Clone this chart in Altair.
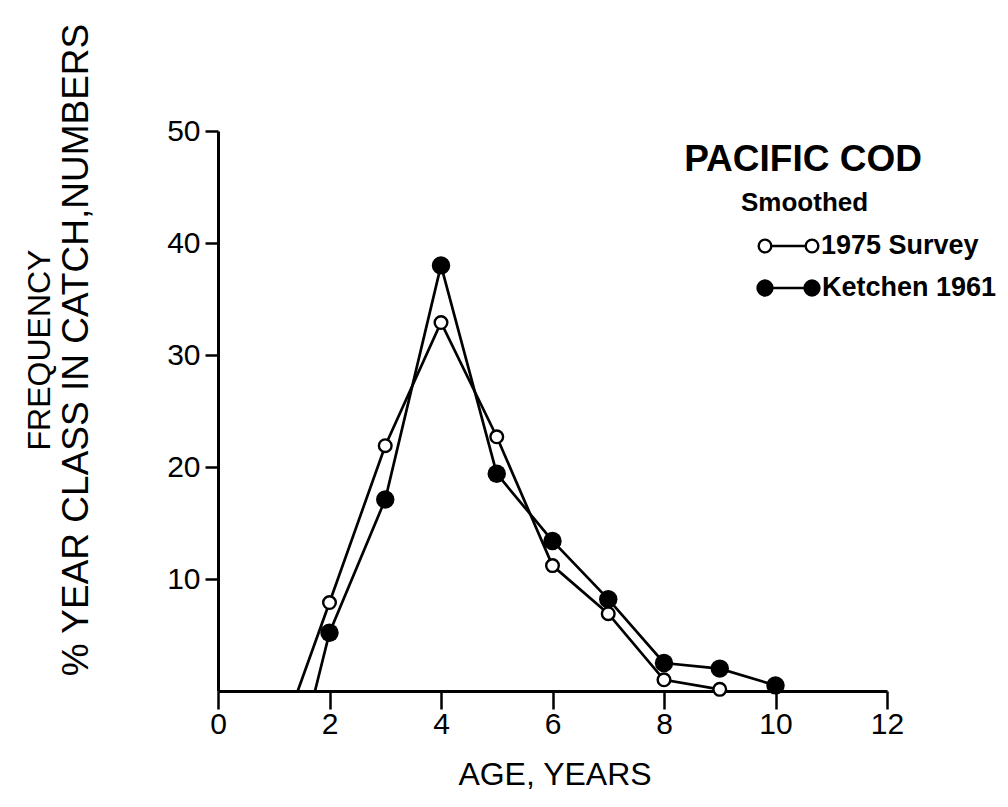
import altair as alt
import pandas as pd

# Data
survey_ages = [1.43, 2, 3, 4, 5, 6, 7, 8, 9]
survey_vals = [0.0, 7.9, 21.9, 32.9, 22.7, 11.2, 6.9, 1.0, 0.15]
ketchen_ages = [1.74, 2, 3, 4, 5, 6, 7, 8, 9, 10]
ketchen_vals = [0.0, 5.2, 17.1, 38.0, 19.4, 13.4, 8.2, 2.5, 2.0, 0.5]

x_ticks = [0, 2, 4, 6, 8, 10, 12]
y_ticks = [10, 20, 30, 40, 50]

FONT = "Liberation Sans"

lines_df = pd.DataFrame({
    "age": survey_ages + ketchen_ages,
    "freq": survey_vals + ketchen_vals,
    "series": ["1975 Survey"] * len(survey_ages) + ["Ketchen 1961"] * len(ketchen_ages),
})
survey_pts = pd.DataFrame({"age": survey_ages[1:], "freq": survey_vals[1:]})
ketchen_pts = pd.DataFrame({"age": ketchen_ages[1:], "freq": ketchen_vals[1:]})
one = pd.DataFrame({"k": [0]})

xs = alt.Scale(domain=[0, 12], nice=False, zero=False)
ys = alt.Scale(domain=[0, 50], nice=False)

x_axis = alt.Axis(values=x_ticks, format="d", title=None, grid=False, tickSize=18, tickWidth=2.5,
                  domainWidth=3, domainColor="black", tickColor="black",
                  labelFont=FONT, labelFontSize=30, labelColor="black", labelPadding=0,
                  labelFlush=False)
y_axis = alt.Axis(values=y_ticks, format="d", title=None, grid=False, tickSize=13, tickWidth=2.5,
                  domainWidth=3, domainColor="black", tickColor="black",
                  labelFont=FONT, labelFontSize=30, labelColor="black", labelPadding=5,
                  labelFlush=False)

lines = alt.Chart(lines_df).mark_line(color="black", strokeWidth=2.7).encode(
    x=alt.X("age:Q", scale=xs, axis=x_axis),
    y=alt.Y("freq:Q", scale=ys, axis=y_axis),
    detail="series:N",
)
open_pts = alt.Chart(survey_pts).mark_point(shape="circle", filled=True, fill="white",
                                            stroke="black", strokeWidth=2.4, size=160,
                                            opacity=1).encode(
    x=alt.X("age:Q", scale=xs), y=alt.Y("freq:Q", scale=ys))
filled_pts = alt.Chart(ketchen_pts).mark_point(shape="circle", filled=True, color="black",
                                               size=340, opacity=1).encode(
    x=alt.X("age:Q", scale=xs), y=alt.Y("freq:Q", scale=ys))


def txt(text, x, y, size, weight="normal", align="center", angle=0):
    return alt.Chart(one).mark_text(text=text, font=FONT, fontSize=size, fontWeight=weight,
                                    align=align, baseline="middle", angle=angle,
                                    color="black").encode(x=alt.value(x), y=alt.value(y))


def dot(x, y, fill):
    if fill:
        return alt.Chart(one).mark_point(shape="circle", filled=True, color="black", size=300,
                                         opacity=1).encode(x=alt.value(x), y=alt.value(y))
    return alt.Chart(one).mark_point(shape="circle", filled=True, fill="white", stroke="black",
                                     strokeWidth=2.4, size=160, opacity=1).encode(
        x=alt.value(x), y=alt.value(y))


def seg(x1, x2, y):
    return alt.Chart(one).mark_rule(color="black", strokeWidth=2.7).encode(
        x=alt.value(x1), x2=alt.value(x2), y=alt.value(y))


layers = [
    lines, open_pts, filled_pts,
    txt("PACIFIC COD", 585, 29, 37, weight="bold"),
    txt("Smoothed", 523, 72, 26, weight="bold", align="left"),
    seg(547, 594, 115), dot(547, 115, False), dot(594, 115, False),
    txt("1975 Survey", 603, 115, 27, weight="bold", align="left"),
    seg(547, 594, 157), dot(547, 157, True), dot(594, 157, True),
    txt("Ketchen 1961", 604, 157, 27, weight="bold", align="left"),
    txt("FREQUENCY", -178, 219, 32, angle=270),
    txt("% YEAR CLASS IN CATCH,NUMBERS", -141, 219, 37, angle=270),
    txt("AGE, YEARS", 337, 644, 32),
]

chart = alt.layer(*layers).properties(
    width=669, height=560,
    background="white",
    autosize=alt.AutoSizeParams(type="none"),
    padding={"left": 210, "top": 123, "right": 113, "bottom": 100},
).configure_view(strokeWidth=0, stroke="transparent")

chart.save("out.html", embed_options={"renderer": "svg", "actions": False})
